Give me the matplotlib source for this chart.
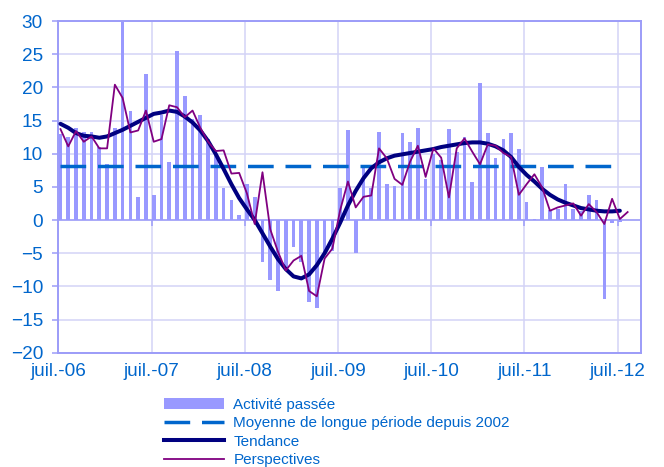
import matplotlib
matplotlib.use('Agg')
import matplotlib.pyplot as plt
import numpy as np
from matplotlib.lines import Line2D
from matplotlib.patches import Patch

# Monthly data, juil. 2006 -> juil./août 2012
activite = [13.0, 12.5, 13.8, 13.3, 13.3, 11.0, 8.4, 13.8, 29.9, 16.4, 3.4, 22.0,
            3.8, 15.9, 8.8, 25.5, 18.7, 15.3, 15.8, 12.2, 9.9, 4.9, 3.0, 0.8,
            5.5, 3.4, -6.3, -9.1, -10.7, -7.6, -4.0, -6.4, -12.3, -13.3, -5.3, -4.6,
            4.8, 13.5, -4.9, 8.0, 4.8, 13.3, 5.4, 5.2, 13.1, 11.7, 13.8, 6.2,
            10.0, 9.0, 13.7, 10.2, 12.5, 5.8, 20.6, 13.1, 9.3, 12.2, 13.1, 10.7,
            2.7, 0.15, 8.0, 1.5, 1.7, 5.5, 1.7, 1.3, 3.8, 3.0, -11.9, -0.5, -0.25]

tendance = [14.5, 13.9, 13.1, 12.7, 12.6, 12.4, 12.6, 13.1, 13.6, 14.2, 14.8, 15.4,
            16.0, 16.2, 16.5, 16.3, 15.6, 14.7, 13.5, 11.9, 9.9, 7.7, 5.4, 3.3,
            1.6, 0.0, -2.0, -4.0, -5.9, -7.4, -8.5, -8.8, -8.2, -6.8, -5.0, -2.8,
            -0.4, 2.2, 4.4, 6.3, 7.8, 8.7, 9.3, 9.7, 9.9, 10.1, 10.3, 10.5,
            10.7, 11.0, 11.2, 11.4, 11.6, 11.7, 11.7, 11.5, 11.1, 10.5, 9.5, 8.0,
            6.8, 5.8, 4.7, 3.8, 3.1, 2.6, 2.2, 1.8, 1.6, 1.4, 1.3, 1.3, 1.4]

perspectives = [13.7, 11.1, 13.4, 11.8, 12.6, 10.8, 10.8, 20.4, 18.4, 13.2, 13.5, 16.5,
                11.8, 12.2, 17.3, 17.0, 15.5, 16.5, 13.9, 11.8, 10.4, 10.5, 7.0, 7.1,
                4.0, -0.6, 7.2, -1.4, -4.8, -7.6, -6.1, -5.4, -10.7, -11.5, -5.8, -4.3,
                1.5, 5.8, 1.9, 3.5, 3.7, 10.8, 9.3, 6.2, 5.3, 8.8, 11.2, 6.5,
                10.8, 9.4, 3.4, 10.8, 12.3, 10.3, 8.4, 11.4, 11.2, 10.1, 9.5, 3.8,
                5.4, 6.9, 4.9, 1.4, 1.9, 2.2, 2.5, 0.65, 2.4, 1.2, -0.6, 3.2, 0.15, 1.2]

moyenne_lp = 8.2

tick_labels = ['juil.-06', 'juil.-07', 'juil.-08', 'juil.-09', 'juil.-10', 'juil.-11', 'juil.-12']
yticks = [-20, -15, -10, -5, 0, 5, 10, 15, 20, 25, 30]

legend_labels = ['Activité passée', 'Moyenne de longue période depuis 2002', 'Tendance', 'Perspectives']

plt.rcParams['font.family'] = ['Liberation Sans', 'DejaVu Sans']

TXT = '#0066CC'
FRAME = '#9C9CF8'
GRID = '#D3D3F6'
BAR = '#9999FF'
NAVY = '#000080'
PURPLE = '#800080'
DASH = '#0066CC'

fig = plt.figure(figsize=(6.64, 4.67), dpi=100)
W, H = 664, 467
ax = fig.add_axes([58.3 / W, 1 - 352.7 / H, (641 - 58.3) / W, (352.7 - 21) / H])

off = 0.28
xb = np.arange(len(activite)) + off
xt = np.arange(len(tendance)) + off
xp = np.arange(len(perspectives)) + off
xticks = [12 * k for k in range(len(tick_labels))]

ax.set_xlim(0, 75)
ax.set_ylim(-20, 30)

ax.set_axisbelow(True)
ax.grid(True, color=GRID, lw=1.1)
ax.axhline(0, color=FRAME, lw=1.1, zorder=1.5)
ax.vlines(xticks[1:], -0.85, 0, color=FRAME, lw=1.1, zorder=1.5)

ax.bar(xb, activite, width=0.47, color=BAR, zorder=2)
ax.plot([xb[0], xb[-1]], [moyenne_lp, moyenne_lp], color=DASH, lw=2.5,
        ls=(0, (7.4, 3.4)), dash_capstyle='butt', zorder=3)
ax.plot(xt, tendance, color=NAVY, lw=2.9, solid_capstyle='round',
        solid_joinstyle='round', zorder=4)
ax.plot(xp, perspectives, color=PURPLE, lw=1.3, zorder=5)

ax.set_xticks(xticks)
ax.set_xticklabels(tick_labels)
ax.set_yticks(yticks)
ax.tick_params(axis='x', length=0, pad=7.5, labelsize=13.7, labelcolor=TXT)
ax.tick_params(axis='y', length=4, width=1.1, color=FRAME, pad=7,
               labelsize=13.7, labelcolor=TXT, direction='out')
for s in ax.spines.values():
    s.set_color(FRAME)
    s.set_linewidth(1.4)

handles = [Patch(facecolor=BAR, edgecolor='none'),
           Line2D([], [], color=DASH, lw=2.5, ls=(0, (7.4, 3.4)), dash_capstyle='butt'),
           Line2D([], [], color=NAVY, lw=2.9),
           Line2D([], [], color=PURPLE, lw=1.3)]
leg = fig.legend(handles, legend_labels, loc='upper left',
                 bbox_to_anchor=(164 / W, 1 - 397.5 / H), frameon=False,
                 borderpad=0, borderaxespad=0, handlelength=3.9, handletextpad=0.64,
                 labelspacing=0.3, fontsize=11)
for t in leg.get_texts():
    t.set_color(TXT)

fig.savefig('out.png', dpi=100)
